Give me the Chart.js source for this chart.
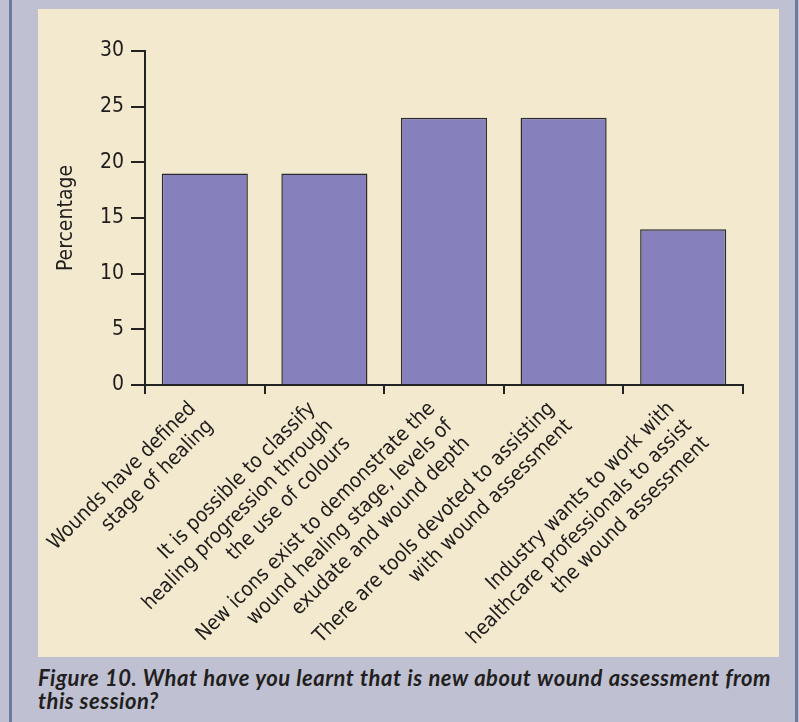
<!DOCTYPE html>
<html>
<head>
<meta charset="utf-8">
<script src="https://cdn.jsdelivr.net/npm/chart.js@4.4.1/dist/chart.umd.min.js"></script>
<style>
  html, body { margin: 0; padding: 0; }
  body { width: 799px; height: 722px; background: #bfc1d3; position: relative; overflow: hidden; }
  .stripe-left { position: absolute; left: 9px; top: 0; width: 3px; height: 722px; background: #6e79a0; }
  .stripe-right { position: absolute; left: 795px; top: 0; width: 3px; height: 722px; background: #6e79a0; }
  .panel { position: absolute; left: 38px; top: 9px; width: 741px; height: 648px; background: #f3e9cf; }
  .caption {
    position: absolute; left: 38px; top: 666px; width: 733px;
    font-family: Lato, "Open Sans", sans-serif; font-weight: 700; font-style: italic;
    font-size: 22px; line-height: 23px; color: #231f20; letter-spacing: 0.5px;
  }
  .caption .l1 { display: block; text-align: justify; text-align-last: justify; white-space: nowrap; }
  .caption .l2 { display: block; }
</style>
</head>
<body>
<div class="stripe-left"></div>
<div class="stripe-right"></div>
<div class="panel"><canvas id="grafico" width="741" height="648"></canvas></div>
<div class="caption"><span class="l1">Figure 10. What have you learnt that is new about wound assessment from</span><span class="l2">this session?</span></div>

<script>
// dados do gráfico
const categorias = [
  ["Wounds have defined", "stage of healing"],
  ["It is possible to classify", "healing progression through", "the use of colours"],
  ["New icons exist to demonstrate the", "wound healing stage, levels of", "exudate and wound depth"],
  ["There are tools devoted to assisting", "with wound assessment"],
  ["Industry wants to work with", "healthcare professionals to assist", "the wound assessment"]
];
const percentuais = [19, 19, 24, 24, 14];
const ticksY = [0, 5, 10, 15, 20, 25, 30];

const fonteNarrow = "'Liberation Sans Narrow', 'DejaVu Sans Condensed', Roboto, sans-serif";
const corTexto = "#1f1c1c";

const ctx = document.getElementById("grafico").getContext("2d");
new Chart(ctx, {
  type: "bar",
  data: {
    labels: categorias,
    datasets: [
      {
        data: percentuais,
        backgroundColor: "#8681bd",
        borderColor: "#2b2b2b",
        borderWidth: 1.5,
        borderSkipped: "bottom",
        categoryPercentage: 0.72,
        barPercentage: 1.0
      }
    ]
  },
  options: {
    responsive: false,
    animation: false,
    layout: { padding: { top: 42, right: 36, left: 0, bottom: 0 } },
    plugins: { legend: { display: false }, tooltip: { enabled: false } },
    scales: {
      x: {
        grid: { drawOnChartArea: false, drawTicks: true, tickLength: 9, color: "#222", lineWidth: 2, offset: true },
        border: { color: "#222", width: 2 },
        ticks: {
          color: corTexto,
          font: { family: fonteNarrow, size: 20.5, lineHeight: 1.2 },
          minRotation: 45,
          maxRotation: 45,
          autoSkip: false,
          labelOffset: -12,
          padding: 3
        },
        afterFit: (s) => { s.height = 272; }
      },
      y: {
        min: 0,
        max: 30,
        afterBuildTicks: (s) => { s.ticks = ticksY.map((v) => ({ value: v })); },
        grid: { drawOnChartArea: false, drawTicks: true, tickLength: 14, color: "#222", lineWidth: 2 },
        border: { color: "#222", width: 2 },
        ticks: { color: corTexto, font: { family: fonteNarrow, size: 21 }, padding: 7 },
        title: { display: true, text: "Percentage", color: corTexto, font: { family: fonteNarrow, size: 21 }, padding: { top: 16, bottom: 0 } },
        afterFit: (s) => { s.width = 107; }
      }
    }
  }
});
</script>
</body>
</html>
